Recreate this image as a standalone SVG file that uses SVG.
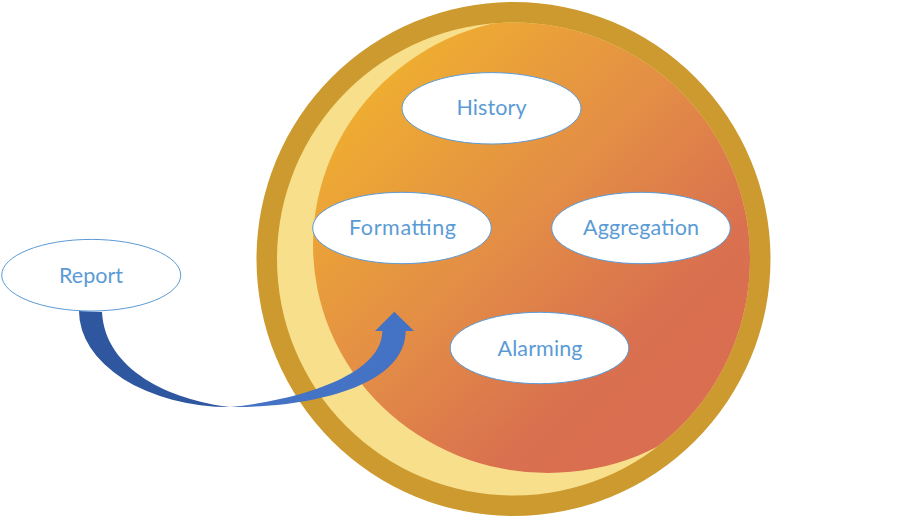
<svg xmlns="http://www.w3.org/2000/svg" width="907" height="517" viewBox="0 0 907 517">
  <style>
    .node ellipse { fill: #FFFFFF; stroke: #5B9BD5; stroke-width: 1; }
    .node text { font-family: Lato, "Open Sans", "Liberation Sans", sans-serif; font-size: 21.5px; fill: #5B9BD5; text-anchor: middle; }
  </style>
  <defs>
    <linearGradient id="core" gradientUnits="userSpaceOnUse" x1="330" y1="40" x2="700" y2="420">
      <stop offset="0" stop-color="#F2B72A"/>
      <stop offset="0.5" stop-color="#E38D46"/>
      <stop offset="0.8" stop-color="#D9704F"/>
      <stop offset="1" stop-color="#D96E50"/>
    </linearGradient>
    <clipPath id="innerDisc">
      <circle cx="513.5" cy="259" r="236.5"/>
    </clipPath>
  </defs>

  <rect width="907" height="517" fill="#FFFFFF"/>

  <!-- backdrop: gold rim, pale crescent, gradient core -->
  <g id="sphere">
    <circle cx="513.5" cy="259" r="257" fill="#CC9A2E"/>
    <circle cx="513.5" cy="259" r="236.5" fill="#F8DF8C"/>
    <ellipse cx="548" cy="245" rx="235" ry="228" fill="url(#core)" clip-path="url(#innerDisc)"/>
  </g>

  <!-- curved arrow from Report into the sphere -->
  <g id="connectors">
    <path d="M79,311 A151,96 0 0 0 230,407 C170,400 105,370 102,312 Z" fill="#2F57A0"/>
    <path d="M230,407 C300,408 405,390 405.7,331 L414,331 L394.3,311.7 L375,331 L382.3,331 C382,375 300,400 230,407 Z" fill="#4472C4"/>
  </g>

  <g id="node-history" class="node">
    <ellipse cx="491.5" cy="108.3" rx="89.5" ry="35.7"/>
    <text x="491.5" y="115" textLength="70">History</text>
  </g>
  <g id="node-formatting" class="node">
    <ellipse cx="402" cy="228" rx="89.3" ry="35.7"/>
    <text x="402.5" y="235" textLength="107">Formatting</text>
  </g>
  <g id="node-aggregation" class="node">
    <ellipse cx="641" cy="228" rx="89.3" ry="35.7"/>
    <text x="641" y="235" textLength="116">Aggregation</text>
  </g>
  <g id="node-alarming" class="node">
    <ellipse cx="539.5" cy="348" rx="89.3" ry="35.7"/>
    <text x="540" y="355.5" textLength="85">Alarming</text>
  </g>
  <g id="node-report" class="node">
    <ellipse cx="91.2" cy="275.2" rx="89.5" ry="35.8"/>
    <text x="91" y="282.5" textLength="64">Report</text>
  </g>
</svg>
